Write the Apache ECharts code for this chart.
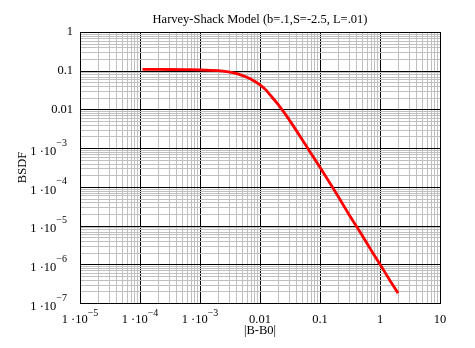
<!DOCTYPE html>
<html>
<head>
<meta charset="utf-8">
<script src="https://cdn.jsdelivr.net/npm/echarts@6/dist/echarts.min.js"></script>
<style>
  html, body { margin: 0; padding: 0; background: #fff; }
  #chart { width: 475px; height: 348px; }
</style>
</head>
<body>
<div id="chart"></div>
<script>
// Harvey-Shack BSDF curve (b=.1, S=-2.5, L=.01)
const beta = [1.1e-4, 2e-4, 5e-4, 1e-3, 2e-3, 3e-3, 4e-3, 5e-3, 6e-3, 7e-3, 8.5e-3, 0.01, 0.0125, 0.015, 0.02, 0.03, 0.05, 0.07, 0.1, 0.2, 0.3, 0.5, 0.7, 1, 1.5, 2];
const bsdf = [0.108, 0.108, 0.107, 0.105, 0.100, 0.093, 0.085, 0.076, 0.068, 0.061, 0.051, 0.043, 0.032, 0.023, 0.0135, 0.0057, 0.0017, 7.5e-4, 3.2e-4, 5.7e-5, 2.0e-5, 5.7e-6, 2.4e-6, 1.0e-6, 3.6e-7, 1.8e-7];

// Decade ticks and their labels ([mantissa part, exponent] or plain text)
const xDecades = [1e-5, 1e-4, 1e-3, 0.01, 0.1, 1, 10];
const xTickLabels = [['1 \u00b710', '\u22125'], ['1 \u00b710', '\u22124'], ['1 \u00b710', '\u22123'], ['0.01'], ['0.1'], ['1'], ['10']];
const yDecades = [1e-7, 1e-6, 1e-5, 1e-4, 1e-3, 0.01, 0.1, 1];
const yTickLabels = [['1 \u00b710', '\u22127'], ['1 \u00b710', '\u22126'], ['1 \u00b710', '\u22125'], ['1 \u00b710', '\u22124'], ['1 \u00b710', '\u22123'], ['0.01'], ['0.1'], ['1']];
const minorSteps = [2, 3, 4, 5, 6, 7, 8, 9];

const titleText = 'Harvey-Shack Model (b=.1,S=-2.5, L=.01)';
const xName = '|B-B0|';
const yName = 'BSDF';

const FONT = '"Liberation Serif", "Times New Roman", serif';

function labelFor(list, decades, v) {
  const e = Math.round(Math.log10(v));
  const i = decades.findIndex(d => Math.round(Math.log10(d)) === e);
  if (i < 0) return '';
  const t = list[i];
  return t.length > 1 ? '{b|' + t[0] + '}{e|' + t[1] + '}' : '{p|' + t[0] + '}';
}

// Grid lines: vertical minor, vertical major, horizontal minor, horizontal major, frame sides
const gridItems = [];
const xMid = 1e-3, yMid = 1e-3;
xDecades.slice(0, -1).forEach(d => minorSteps.forEach(k => gridItems.push([d * k, yMid, 0, 0])));
xDecades.slice(1, -1).forEach(d => gridItems.push([d, yMid, 0, 1]));
yDecades.slice(0, -1).forEach(d => minorSteps.forEach(k => gridItems.push([xMid, d * k, 1, 0])));
yDecades.forEach(d => gridItems.push([xMid, d, 1, 1]));
gridItems.push([xDecades[0], yMid, 0, 1]);
gridItems.push([xDecades[xDecades.length - 1], yMid, 0, 1]);

const chart = echarts.init(document.getElementById('chart'), null, { renderer: 'canvas' });

chart.setOption({
  animation: false,
  backgroundColor: '#fff',
  textStyle: { fontFamily: FONT, color: '#000' },
  graphic: [{
    type: 'text',
    x: 260, y: 20,
    style: { text: titleText, textAlign: 'center', textVerticalAlign: 'middle', font: '12.5px ' + FONT, fill: '#000' }
  }],
  grid: { left: 80, top: 32, width: 360, height: 271, containLabel: false },
  xAxis: {
    type: 'log', logBase: 10, min: 1e-5, max: 10,
    name: xName, nameLocation: 'middle', nameGap: 21, nameMoveOverlap: false,
    nameTextStyle: { fontFamily: FONT, fontSize: 12.5, color: '#000' },
    axisLine: { show: false }, axisTick: { show: false },
    splitLine: { show: false }, minorSplitLine: { show: false },
    axisLabel: {
      customValues: xDecades,
      margin: 5,
      hideOverlap: false,
      formatter: v => labelFor(xTickLabels, xDecades, v),
      rich: {
        b: { fontFamily: FONT, fontSize: 12.5, color: '#000', lineHeight: 18, verticalAlign: 'bottom' },
        e: { fontFamily: FONT, fontSize: 10, color: '#000', verticalAlign: 'top' },
        p: { fontFamily: FONT, fontSize: 12.5, color: '#000', lineHeight: 18, verticalAlign: 'bottom' }
      }
    }
  },
  yAxis: {
    type: 'log', logBase: 10, min: 1e-7, max: 1,
    name: yName, nameLocation: 'middle', nameGap: 51, nameMoveOverlap: false,
    nameTextStyle: { fontFamily: FONT, fontSize: 12.5, color: '#000' },
    axisLine: { show: false }, axisTick: { show: false },
    splitLine: { show: false }, minorSplitLine: { show: false },
    axisLabel: {
      customValues: yDecades,
      margin: 7,
      hideOverlap: false,
      formatter: v => labelFor(yTickLabels, yDecades, v),
      rich: {
        b: { fontFamily: FONT, fontSize: 12.5, color: '#000', lineHeight: 20, verticalAlign: 'bottom', padding: [4, 0, 0, 0] },
        e: { fontFamily: FONT, fontSize: 10, color: '#000', verticalAlign: 'top', padding: [0, 6, 0, 0] },
        p: { fontFamily: FONT, fontSize: 12.5, color: '#000' }
      }
    }
  },
  series: [
    {
      type: 'custom',
      name: 'grid',
      silent: true,
      clip: false,
      z: 1,
      encode: { x: 0, y: 1 },
      data: gridItems,
      renderItem(params, api) {
        const cs = params.coordSys;
        const p = api.coord([api.value(0), api.value(1)]);
        const major = api.value(3) === 1;
        let shape;
        if (api.value(2) === 0) {
          const x = Math.round(p[0]) + 0.5;
          shape = { x1: x, y1: cs.y, x2: x, y2: cs.y + cs.height + 1 };
        } else {
          const y = Math.round(p[1]) + 0.5;
          shape = { x1: cs.x, y1: y, x2: cs.x + cs.width + 1, y2: y };
        }
        return {
          type: 'line', shape, silent: true,
          style: { stroke: major ? '#000' : '#c0c0c0', lineWidth: 1 }
        };
      }
    },
    {
      type: 'line',
      name: 'BSDF',
      z: 5,
      data: beta.map((b, i) => [b, bsdf[i]]),
      showSymbol: false,
      smooth: 0.2,
      lineStyle: { color: '#ff0000', width: 2.8 }
    }
  ]
});
</script>
</body>
</html>
